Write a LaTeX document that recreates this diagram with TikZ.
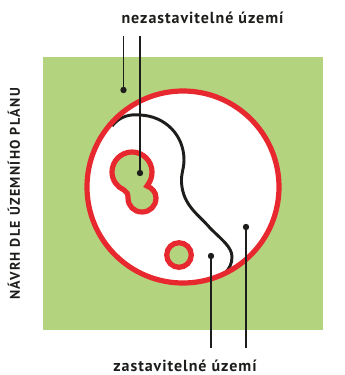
\documentclass[tikz,border=0pt]{standalone}
\usepackage{fontspec}
\setmainfont{PT Sans}
\newfontfamily\labelfont[LetterSpace=6]{PT Sans}
\newfontfamily\sidefont[LetterSpace=9.5]{PT Sans}
\usepackage{xcolor}
\definecolor{plotgreen}{HTML}{B3D37F}
\definecolor{limitred}{HTML}{E8282F}
\definecolor{inkblack}{HTML}{1D1D1B}
\tikzset{
  leaderdot/.style={circle,fill=inkblack,inner sep=0pt,minimum size=4.8pt},
  leader/.style={inkblack,line width=0.85pt},
  zonelabel/.style={font=\labelfont\bfseries\fontsize{12pt}{14pt}\selectfont,text=inkblack,inner sep=0pt},
  redline/.style={limitred,line width=3.9pt}
}
\begin{document}
\begin{tikzpicture}[x=0.75pt,y=-0.75pt]
  \useasboundingbox (0,0) rectangle (345,375);
  % Plot and boundary
  \fill[plotgreen] (43,57) rectangle (323,330);
  \fill[white] (183,187) circle (96);
  % Islands
  \draw[redline,fill=plotgreen]
    (147,186)
    .. controls (150,182) and (152,178) .. (152,172)
    .. controls (152,161) and (143,152) .. (132,152)
    .. controls (121,152) and (112,161) .. (112,172)
    .. controls (112,180) and (117,187) .. (124,190)
    .. controls (127,191.5) and (128,194) .. (128,198)
    .. controls (128,206) and (134,212) .. (142,212)
    .. controls (150,212) and (156,206) .. (156,198)
    .. controls (156,192) and (152,188) .. (147,186) -- cycle;
  \draw[redline,fill=plotgreen] (179,255) circle (12.3);
  % Dividing curve
  \draw[inkblack,line width=2.2pt]
    (112,126)
    .. controls (120,116) and (130,114) .. (140,115)
    .. controls (165,116) and (184,135) .. (184,160)
    .. controls (184,170) and (180,175) .. (182,187)
    .. controls (185,207) and (200,216) .. (210,228)
    .. controls (222,240) and (232,247) .. (232,257)
    .. controls (232,264) and (229,269) .. (225,273);
  \draw[redline] (183,187) circle (96);
  % Labels
  \node[zonelabel] (forbidden) at (202.5,18) {nezastavitelné území};
  \node[zonelabel] (buildable) at (185,366) {zastavitelné území};
  \node[zonelabel,rotate=90,font=\sidefont\bfseries\fontsize{10.5pt}{12pt}\selectfont] (plan) at (14,194) {NÁVRH DLE ÚZEMNÍHO PLÁNU};
  % Leaders
  \node[leaderdot] (dotplot) at (123.5,90) {};
  \node[leaderdot] (dotisland) at (140,173) {};
  \node[leaderdot] (dotinner) at (211,256) {};
  \node[leaderdot] (dotouter) at (246,227) {};
  \coordinate (endplot) at (123.5,36);
  \coordinate (endisland) at (140,36);
  \coordinate (endinner) at (211,348);
  \coordinate (endouter) at (246,348);
  \draw[leader] (endplot) -- (dotplot);
  \draw[leader] (endisland) -- (dotisland);
  \draw[leader] (endinner) -- (dotinner);
  \draw[leader] (endouter) -- (dotouter);
\end{tikzpicture}
\end{document}
